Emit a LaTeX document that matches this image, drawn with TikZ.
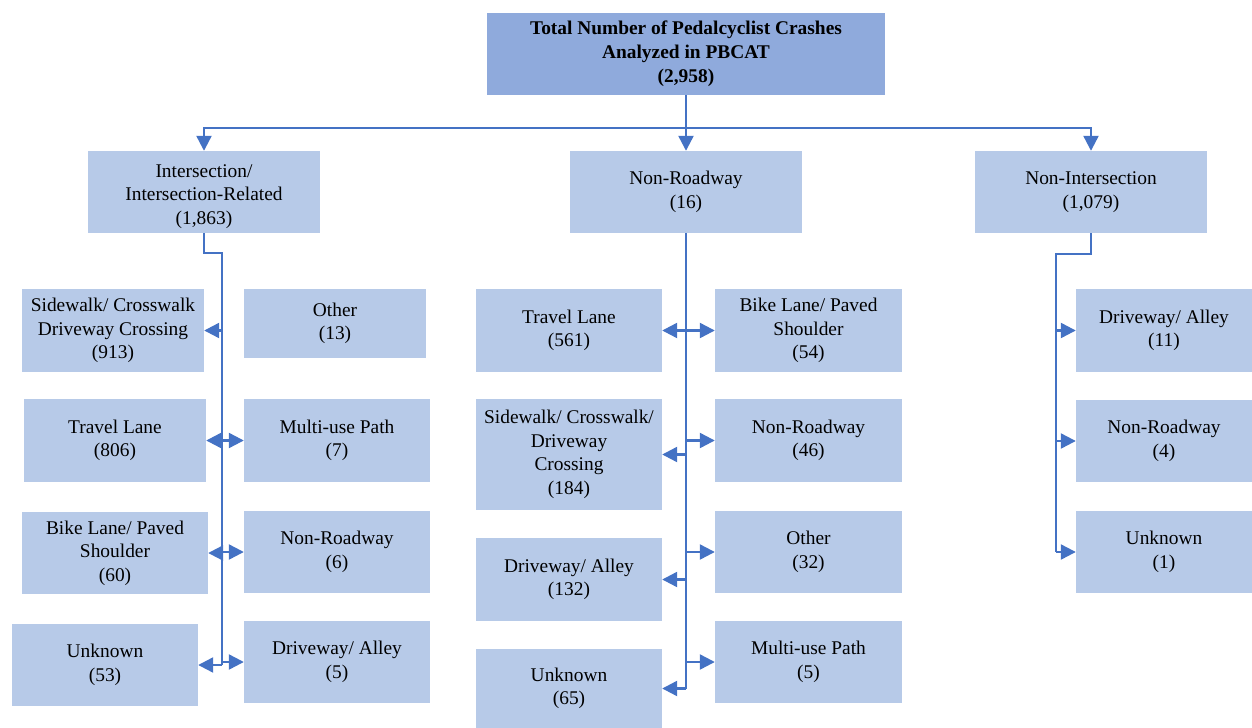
\documentclass[tikz,border=0pt]{standalone}
\usepackage{fontspec}
\setmainfont{Liberation Serif}
\usetikzlibrary{arrows.meta}
\definecolor{boxblue}{HTML}{B7CAE8}
\definecolor{topblue}{HTML}{8FAADC}
\definecolor{linkblue}{HTML}{4472C4}
\begin{document}
\begin{tikzpicture}[x=1bp,y=-1bp,
  box/.style={fill=boxblue, inner sep=0pt, align=center,
    font=\fontsize{19.4bp}{23.5bp}\selectfont, text=black},
  sz/.style 2 args={minimum width=#1bp, minimum height=#2bp},
  link/.style={draw=linkblue, line width=2.3bp},
  arr/.style={link, -{Triangle[length=15bp,width=15bp]}}]
\useasboundingbox (0,0) rectangle (1252,728);

% top
\node[box, fill=topblue, sz={398}{82}, font=\fontsize{19.4bp}{24bp}\selectfont\bfseries] (top) at (686,54)
  {Total Number of Pedalcyclist Crashes\\Analyzed in PBCAT\\(2,958)};

% level 2
\node[box, sz={232}{82}] (int) at (204,192) {\rule{0pt}{22bp}Intersection/\\Intersection-Related\\(1,863)};
\node[box, sz={232}{82}] (nr) at (686,192) {Non-Roadway\\(16)};
\node[box, sz={232}{82}] (ni) at (1091,192) {Non-Intersection\\(1,079)};

% left column
\node[box, sz={182}{83}] (s913) at (113,330.5) {Sidewalk/ Crosswalk\\Driveway Crossing\\(913)};
\node[box, sz={182}{69}] (o13) at (335,323.5) {Other\\(13)};
\node[box, sz={182}{83}] (t806) at (115,440.5) {Travel Lane\\(806)};
\node[box, sz={186}{83}] (m7) at (337,440.5) {Multi-use Path\\(7)};
\node[box, sz={186}{82}] (b60) at (115,553) {Bike Lane/ Paved\\Shoulder\\(60)};
\node[box, sz={186}{82}] (n6) at (337,552) {Non-Roadway\\(6)};
\node[box, sz={186}{82}] (u53) at (105,665) {Unknown\\(53)};
\node[box, sz={186}{82}] (d5) at (337,662) {Driveway/ Alley\\(5)};

% middle column
\node[box, sz={186}{83}] (t561) at (569,330.5) {Travel Lane\\(561)};
\node[box, sz={187}{83}] (b54) at (808.5,330.5) {Bike Lane/ Paved\\Shoulder\\(54)};
\node[box, sz={186}{111}] (s184) at (569,454.5) {Sidewalk/ Crosswalk/\\Driveway\\Crossing\\(184)};
\node[box, sz={187}{83}] (n46) at (808.5,440.5) {Non-Roadway\\(46)};
\node[box, sz={186}{83}] (d132) at (569,579.5) {Driveway/ Alley\\(132)};
\node[box, sz={187}{82}] (o32) at (808.5,552) {Other\\(32)};
\node[box, sz={186}{79}] (u65) at (569,688.5) {Unknown\\(65)};
\node[box, sz={187}{82}] (m5) at (808.5,662) {Multi-use Path\\(5)};

% right column
\node[box, sz={176}{83}] (d11) at (1164,330.5) {Driveway/ Alley\\(11)};
\node[box, sz={176}{82}] (n4) at (1164,441) {Non-Roadway\\(4)};
\node[box, sz={176}{82}] (u1) at (1164,552) {Unknown\\(1)};

% top connectors
\coordinate (bus) at (686,128);
\draw[arr] (top.south) -- (nr.north);
\draw[arr] (bus) -| (int.north);
\draw[arr] (bus) -| (ni.north);

% left trunk
\coordinate (lt) at (222,253);
\draw[link] (int.south) |- (lt) -- (lt |- u53.east);
\draw[arr] (lt |- s913.east) -- (s913.east);
\draw[arr] (lt |- t806.east) -- (t806.east);
\draw[arr] (lt |- b60.east) -- (b60.east);
\draw[arr] (lt |- u53.east) -- (u53.east);
\draw[arr] (lt |- m7.west) -- (m7.west);
\draw[arr] (lt |- n6.west) -- (n6.west);
\draw[arr] (lt |- d5.west) -- (d5.west);

% middle trunk
\draw[link] (nr.south) -- (nr.south |- u65.east);
\draw[arr] (nr.south |- t561.east) -- (t561.east);
\draw[arr] (nr.south |- s184.east) -- (s184.east);
\draw[arr] (nr.south |- d132.east) -- (d132.east);
\draw[arr] (nr.south |- u65.east) -- (u65.east);
\draw[arr] (nr.south |- b54.west) -- (b54.west);
\draw[arr] (nr.south |- n46.west) -- (n46.west);
\draw[arr] (nr.south |- o32.west) -- (o32.west);
\draw[arr] (nr.south |- m5.west) -- (m5.west);

% right trunk
\coordinate (rt) at (1056,254);
\draw[link] (ni.south) |- (rt) -- (rt |- u1.west);
\draw[arr] (rt |- d11.west) -- (d11.west);
\draw[arr] (rt |- n4.west) -- (n4.west);
\draw[arr] (rt |- u1.west) -- (u1.west);
\end{tikzpicture}
\end{document}
